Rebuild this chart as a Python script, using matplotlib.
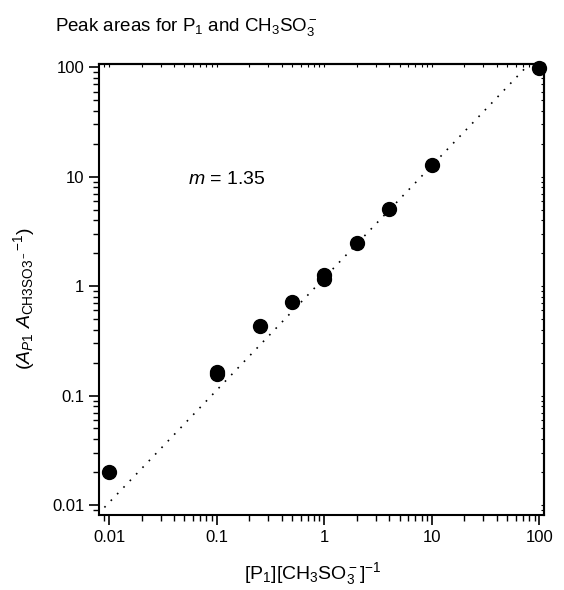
import matplotlib
matplotlib.use("Agg")
import matplotlib.pyplot as plt
from matplotlib.ticker import FixedLocator, LogLocator, NullFormatter

plt.rcParams['font.family'] = ['Liberation Sans', 'DejaVu Sans']
plt.rcParams['mathtext.fontset'] = 'custom'
plt.rcParams['mathtext.rm'] = 'Liberation Sans'
plt.rcParams['mathtext.it'] = 'Liberation Sans:italic'
plt.rcParams['mathtext.bf'] = 'Liberation Sans:bold'

# Data
ratio_x = [0.01, 0.1, 0.1, 0.25, 0.5, 1, 1, 2, 4, 10, 100]
area_y = [0.02, 0.163, 0.157, 0.43, 0.71, 1.27, 1.17, 2.5, 5.05, 12.9, 99]
fit_x = [0.009, 75]
fit_y = [0.0095, 100]
tick_vals = [0.01, 0.1, 1, 10, 100]
tick_labels = ['0.01', '0.1', '1', '10', '100']

fig = plt.figure(figsize=(5.64, 5.90), dpi=100)
ax = fig.add_axes([0.1764, 0.1271, 0.788, 0.7644])

ax.plot(fit_x, fit_y, linestyle=(0, (1, 4.5)), color='black', linewidth=1.2)
ax.plot(ratio_x, area_y, 'o', color='black', markersize=10, clip_on=False, zorder=3)

ax.set_xscale('log')
ax.set_yscale('log')
ax.set_xlim(0.0081, 110)
ax.set_ylim(0.0081, 107)

for axis in (ax.xaxis, ax.yaxis):
    axis.set_major_locator(FixedLocator(tick_vals))
    axis.set_minor_locator(LogLocator(base=10, subs=range(2, 10), numticks=20))
    axis.set_minor_formatter(NullFormatter())
ax.set_xticklabels(tick_labels)
ax.set_yticklabels(tick_labels)

ax.tick_params(which='major', direction='out', length=7, width=1.2, labelsize=12, pad=4,
               top=False, right=False)
ax.tick_params(which='minor', direction='out', length=4, width=1.0, top=False, right=False)

# inward small ticks on top and right
sec_x = ax.secondary_xaxis('top')
sec_y = ax.secondary_yaxis('right')
sec_x.xaxis.set_major_locator(FixedLocator(tick_vals))
sec_x.xaxis.set_minor_locator(LogLocator(base=10, subs=range(2, 10), numticks=20))
sec_x.xaxis.set_major_formatter(NullFormatter())
sec_x.xaxis.set_minor_formatter(NullFormatter())
sec_y.yaxis.set_major_locator(FixedLocator(tick_vals))
sec_y.yaxis.set_minor_locator(LogLocator(base=10, subs=range(2, 10), numticks=20))
sec_y.yaxis.set_major_formatter(NullFormatter())
sec_y.yaxis.set_minor_formatter(NullFormatter())
for sec in (sec_x, sec_y):
    sec.tick_params(which='both', direction='in', length=2.5, width=0.8)
    for sp in sec.spines.values():
        sp.set_linewidth(1.5)

for sp in ax.spines.values():
    sp.set_linewidth(1.5)

ax.text(0.199, 0.734, r'$m$ = 1.35', transform=ax.transAxes, fontsize=14,
        ha='left', va='baseline')

ax.set_xlabel(r'[P$_1$][CH$_3$SO$_3^-$]$^{-1}$', fontsize=14)
ax.xaxis.set_label_coords(0.48, -0.1)
ax.xaxis.label.set_va('top')
ax.set_ylabel(r'($A_{P1}$ $A_{\mathrm{CH3SO3}^-}$$^{-1}$)', fontsize=14)
ax.yaxis.set_label_coords(-0.14, 0.479)

fig.text(55 / 564, 1 - 30.7 / 590, r'Peak areas for P$_1$ and CH$_3$SO$_3^-$',
         fontsize=13.5, ha='left', va='baseline')

fig.savefig('out.png', dpi=100)
